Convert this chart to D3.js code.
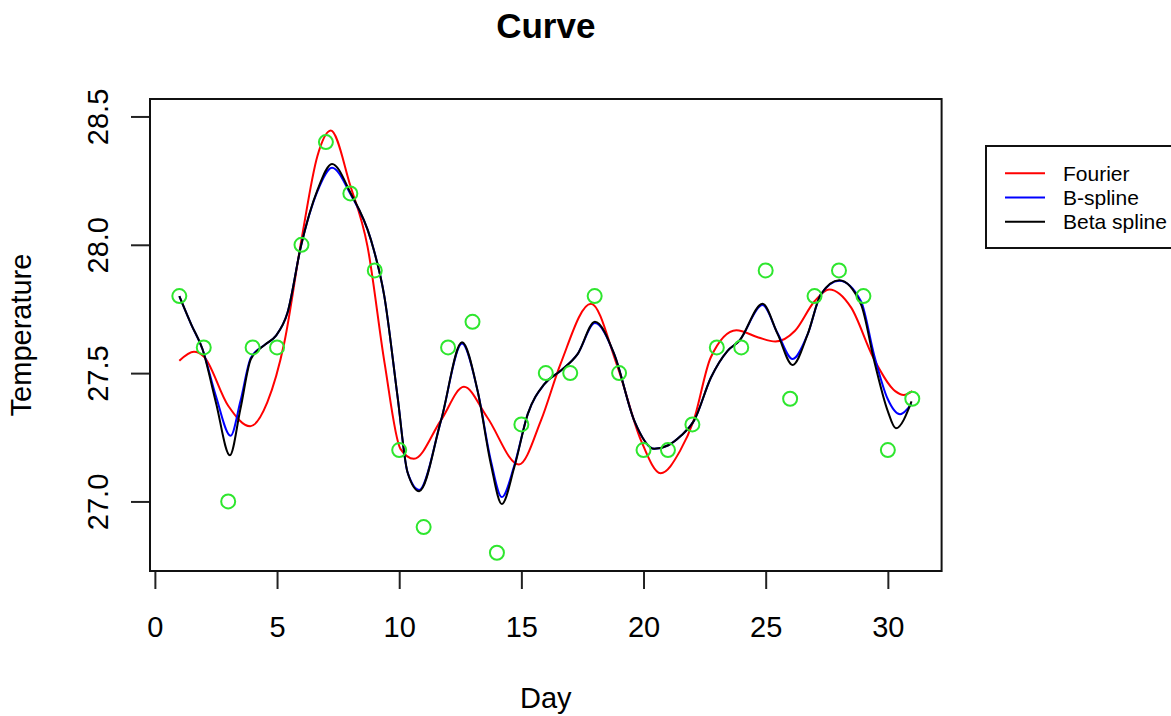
<!DOCTYPE html>
<html>
<head>
<meta charset="utf-8">
<script src="https://cdn.jsdelivr.net/npm/d3@7"></script>
<style>
  html, body { margin: 0; padding: 0; background: #fff; }
  svg { display: block; }
  text { font-family: "Liberation Sans", Arial, Helvetica, sans-serif; fill: #000; }
</style>
</head>
<body>
<svg id="chart" width="1171" height="716"></svg>
<script>
// Observed daily temperatures
const obsDay  = [1, 2, 3, 4, 5, 6, 7, 8, 9, 10, 11, 12, 13, 14, 15, 16, 17, 18, 19, 20, 21, 22, 23, 24, 25, 26, 27, 28, 29, 30, 31];
const obsTemp = [27.8, 27.6, 27.0, 27.6, 27.6, 28.0, 28.4, 28.2, 27.9, 27.2, 26.9, 27.6, 27.7, 26.8, 27.3, 27.5,
                 27.5, 27.8, 27.5, 27.2, 27.2, 27.3, 27.6, 27.6, 27.9, 27.4, 27.8, 27.9, 27.8, 27.2, 27.4];

// Fourier smooth
const fourierDay  = [1, 1.6, 2.0, 3.0, 3.9, 4.6, 5.3, 6.0, 6.65, 7.2, 8.0, 8.7, 9.4, 10.05, 10.6, 11.7, 12.65, 13.6,
                     14.9, 15.8, 16.6, 17.85, 18.9, 19.9, 20.7, 21.5, 22.05, 22.75, 23.8, 24.7, 25.4, 26.2, 27.0,
                     27.6, 28.5, 29.4, 30.3, 30.65, 31.0];
const fourierTemp = [27.548, 27.583, 27.565, 27.373, 27.293, 27.386, 27.62, 28.02, 28.345, 28.445, 28.23, 27.995,
                     27.54, 27.205, 27.166, 27.315, 27.447, 27.328, 27.144, 27.315, 27.535, 27.77, 27.535, 27.237,
                     27.11, 27.198, 27.315, 27.561, 27.667, 27.639, 27.623, 27.665, 27.78, 27.826, 27.755, 27.561,
                     27.43, 27.415, 27.43];

// B-spline smooth
const bsplineDay  = [1, 1.5, 1.95, 2.5, 3.1, 3.5, 3.93, 4.54, 4.95, 5.43, 5.98, 6.66, 7.25, 8.02, 8.84, 9.39, 9.93,
                     10.34, 10.82, 11.71, 12.57, 13.21, 13.75, 14.2, 14.71, 15.26, 15.94, 16.62, 17.3, 18.01, 18.8,
                     19.62, 20.44, 20.99, 21.53, 22.07, 22.76, 23.44, 23.92, 24.87, 25.49, 26.1, 26.72, 27.26, 28.01,
                     28.9, 29.44, 29.99, 30.5, 30.97];
const bsplineTemp = [27.8, 27.687, 27.593, 27.41, 27.256, 27.39, 27.56, 27.613, 27.645, 27.736, 27.995, 28.21, 28.30,
                     28.195, 28.02, 27.80, 27.41, 27.114, 27.045, 27.315, 27.615, 27.43, 27.16, 27.017, 27.14, 27.34,
                     27.457, 27.51, 27.574, 27.695, 27.574, 27.315, 27.205, 27.218, 27.256, 27.315, 27.483, 27.587,
                     27.626, 27.765, 27.655, 27.555, 27.652, 27.807, 27.86, 27.78, 27.57, 27.40, 27.34, 27.38];

// Beta-spline smooth
const betaDay  = [1, 1.5, 1.95, 2.5, 3.07, 3.5, 3.93, 4.54, 4.95, 5.43, 5.98, 6.66, 7.25, 8.02, 8.84, 9.39, 9.93,
                  10.34, 10.82, 11.71, 12.57, 13.21, 13.75, 14.2, 14.71, 15.26, 15.94, 16.62, 17.3, 18.01, 18.8,
                  19.62, 20.44, 20.99, 21.53, 22.07, 22.76, 23.44, 23.92, 24.87, 25.49, 26.1, 26.72, 27.26, 28.01,
                  28.9, 29.44, 29.99, 30.33, 30.97];
const betaTemp = [27.8, 27.687, 27.593, 27.385, 27.18, 27.36, 27.555, 27.613, 27.645, 27.736, 27.995, 28.215, 28.315,
                  28.20, 28.02, 27.80, 27.41, 27.114, 27.04, 27.315, 27.62, 27.43, 27.146, 26.99, 27.133, 27.34,
                  27.457, 27.51, 27.574, 27.70, 27.574, 27.315, 27.205, 27.218, 27.256, 27.315, 27.483, 27.587,
                  27.626, 27.77, 27.652, 27.532, 27.652, 27.807, 27.862, 27.768, 27.548, 27.354, 27.285, 27.39];

const xTicks = [0, 5, 10, 15, 20, 25, 30];
const yTicks = [27.0, 27.5, 28.0, 28.5];

const seriesNames  = ["Fourier", "B-spline", "Beta spline"];
const seriesColors = ["#ff0000", "#0000ff", "#000000"];

const svg = d3.select("#chart");

// plot region
const plotLeft = 150, plotRight = 941.6, plotTop = 99, plotBottom = 571;
const x = d3.scaleLinear().domain([-0.2, 32.2]).range([plotLeft, plotRight]);
const y = d3.scaleLinear().domain([26.729, 28.568]).range([plotBottom, plotTop]);

const baseFont = 29;
const fontStack = '"Liberation Sans", Arial, Helvetica, sans-serif';

// title
svg.append("text")
  .attr("x", (plotLeft + plotRight) / 2).attr("y", 38)
  .attr("text-anchor", "middle")
  .style("font-size", "35px").style("font-weight", "bold")
  .text("Curve");

// axis titles
svg.append("text")
  .attr("x", (plotLeft + plotRight) / 2).attr("y", 708)
  .attr("text-anchor", "middle")
  .style("font-size", baseFont + "px")
  .text("Day");

svg.append("text")
  .attr("transform", `translate(31,${(plotTop + plotBottom) / 2}) rotate(-90)`)
  .attr("text-anchor", "middle")
  .style("font-size", baseFont + "px")
  .text("Temperature");

// x axis
const xAxis = svg.append("g")
  .attr("transform", `translate(0,${plotBottom})`)
  .call(d3.axisBottom(x).tickValues(xTicks).tickFormat(d3.format("d"))
        .tickSize(18).tickSizeOuter(0).tickPadding(27));
xAxis.select(".domain").attr("stroke", "#000").attr("stroke-width", 2)
  .attr("d", `M${x(xTicks[0])},0H${x(xTicks[xTicks.length - 1])}`);
xAxis.selectAll(".tick line").attr("stroke", "#222").attr("stroke-width", 2);
xAxis.selectAll(".tick text")
  .style("font-size", baseFont + "px")
  .style("font-family", fontStack)
  .attr("fill", "#000");

// y axis with rotated labels
const yAxis = svg.append("g")
  .attr("transform", `translate(${plotLeft},0)`)
  .call(d3.axisLeft(y).tickValues(yTicks).tickFormat(d3.format(".1f"))
        .tickSize(19).tickSizeOuter(0));
yAxis.select(".domain").attr("stroke", "#000").attr("stroke-width", 2)
  .attr("d", `M0,${y(yTicks[0])}V${y(yTicks[yTicks.length - 1])}`);
yAxis.selectAll(".tick line").attr("stroke", "#222").attr("stroke-width", 2);
yAxis.selectAll(".tick text")
  .attr("x", null).attr("dy", null)
  .attr("transform", "translate(-42,0) rotate(-90)")
  .attr("text-anchor", "middle")
  .style("font-size", baseFont + "px")
  .style("font-family", fontStack)
  .attr("fill", "#000");

// plot frame
svg.append("rect")
  .attr("x", plotLeft).attr("y", plotTop)
  .attr("width", plotRight - plotLeft).attr("height", plotBottom - plotTop)
  .attr("fill", "none").attr("stroke", "#111").attr("stroke-width", 2);

// smooth curves
const line = d3.line()
  .x(d => x(d[0])).y(d => y(d[1]))
  .curve(d3.curveMonotoneX);

const curves = [
  d3.zip(fourierDay, fourierTemp),
  d3.zip(bsplineDay, bsplineTemp),
  d3.zip(betaDay, betaTemp)
];

svg.append("g").selectAll("path")
  .data(curves)
  .join("path")
  .attr("d", line)
  .attr("fill", "none")
  .attr("stroke", (d, i) => seriesColors[i])
  .attr("stroke-width", 2)
  .attr("stroke-linejoin", "round");

// observations
svg.append("g").selectAll("circle")
  .data(d3.zip(obsDay, obsTemp))
  .join("circle")
  .attr("cx", d => x(d[0])).attr("cy", d => y(d[1]))
  .attr("r", 7)
  .attr("fill", "none")
  .attr("stroke", "#2ee62e")
  .attr("stroke-width", 2);

// legend
const legend = svg.append("g");
legend.append("rect")
  .attr("x", 986).attr("y", 146)
  .attr("width", 260).attr("height", 102)
  .attr("fill", "#fff").attr("stroke", "#111").attr("stroke-width", 2);

const rows = legend.selectAll("g.row")
  .data(seriesNames)
  .join("g")
  .attr("class", "row")
  .attr("transform", (d, i) => `translate(0,${173.3 + i * 24.2})`);
rows.append("line")
  .attr("x1", 1005).attr("x2", 1045)
  .attr("stroke", (d, i) => seriesColors[i]).attr("stroke-width", 2);
rows.append("text")
  .attr("x", 1063).attr("dy", "0.35em")
  .style("font-size", "21px")
  .text(d => d);
</script>
</body>
</html>
